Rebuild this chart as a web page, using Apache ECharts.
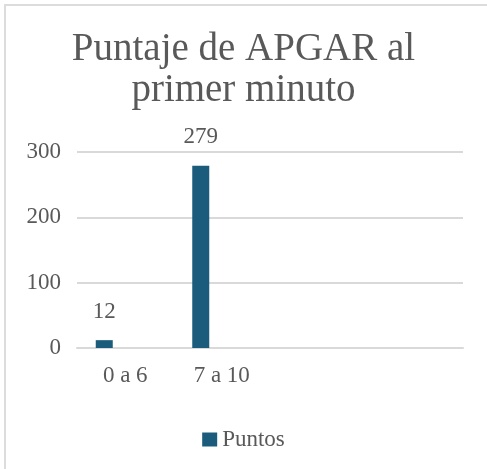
<!DOCTYPE html>
<html>
<head>
<meta charset="utf-8">
<script src="https://cdn.jsdelivr.net/npm/echarts@6/dist/echarts.min.js"></script>
<style>
    body { margin: 0; background: #fff; }
    #wrap { position: relative; width: 487px; height: 469px; }
    #chart { width: 487px; height: 469px; }
    #frame {
        position: absolute; left: 4px; top: 4px; right: 0; bottom: 0;
        border-left: 2px solid #dcdcdc; border-top: 2px solid #dcdcdc;
        pointer-events: none;
    }
</style>
</head>
<body>
<div id="wrap">
    <div id="chart"></div>
    <div id="frame"></div>
</div>
<script>
// datos del grafico
const categories = ['0 a 6', '7 a 10', '', ''];
const puntos = [12, 279, null, null];
const yTicks = [0, 100, 200, 300];

const font = 'Liberation Serif';
const textGray = '#595959';
const lineGray = '#d9d9d9';

const myChart = echarts.init(document.getElementById('chart'));

const option = {
    animation: false,
    title: {
        text: 'Puntaje de APGAR al\nprimer minuto',
        left: 'center',
        top: 24,
        textStyle: {
            fontFamily: font,
            fontSize: 39,
            fontWeight: 'normal',
            color: textGray,
            lineHeight: 41,
        },
    },
    legend: {
        data: ['Puntos'],
        left: 'center',
        top: 423,
        icon: 'rect',
        itemWidth: 15,
        itemHeight: 14,
        itemGap: 9,
        textStyle: {
            fontFamily: font,
            fontSize: 23,
            color: textGray,
        },
    },
    grid: {
        left: 77,
        right: 24,
        top: 152,
        bottom: 121,
        containLabel: false,
        outerBoundsMode: 'none',
    },
    xAxis: {
        type: 'category',
        data: categories,
        axisLine: { lineStyle: { color: lineGray, width: 2 } },
        axisTick: { show: false },
        axisLabel: {
            fontFamily: font,
            fontSize: 23,
            color: textGray,
            margin: 16,
            interval: 0,
        },
    },
    yAxis: {
        type: 'value',
        min: yTicks[0],
        max: yTicks[yTicks.length - 1],
        interval: yTicks[1] - yTicks[0],
        axisLine: { show: false },
        axisTick: { show: false },
        splitLine: { lineStyle: { color: lineGray, width: 2 } },
        axisLabel: {
            fontFamily: font,
            fontSize: 23,
            color: textGray,
            margin: 16,
        },
    },
    series: [
        {
            name: 'Puntos',
            type: 'bar',
            data: puntos,
            barWidth: 17,
            barGap: '147%',
            itemStyle: { color: '#1b5c7d' },
            label: {
                show: true,
                position: 'top',
                distance: 17,
                fontFamily: font,
                fontSize: 23,
                color: textGray,
            },
        },
        {
            // serie vacia, solo para desplazar las barras como en el original
            name: 'vacio',
            type: 'bar',
            data: [null, null, null, null],
            barWidth: 17,
        },
    ],
};

myChart.setOption(option);
</script>
</body>
</html>
